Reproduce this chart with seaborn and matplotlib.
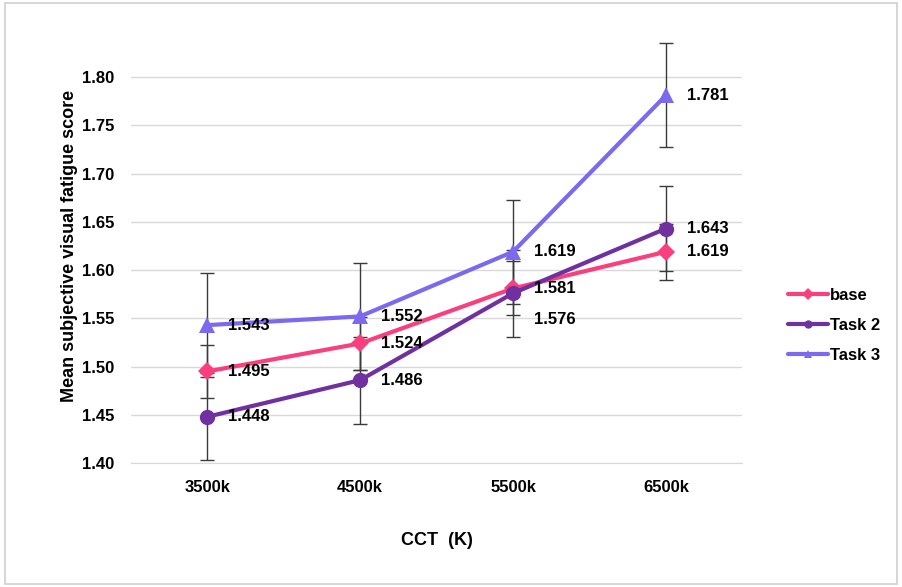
import numpy as np
import pandas as pd
import seaborn as sns
import matplotlib.pyplot as plt
from matplotlib.patches import Rectangle

# chart data
cct = ['3500k', '4500k', '5500k', '6500k']
base = [1.495, 1.524, 1.581, 1.619]
task2 = [1.448, 1.486, 1.576, 1.643]
task3 = [1.543, 1.552, 1.619, 1.781]
base_err = [0.027, 0.027, 0.028, 0.029]
task2_err = [0.045, 0.045, 0.045, 0.044]
task3_err = [0.054, 0.055, 0.054, 0.054]
series = ['base', 'Task 2', 'Task 3']

sns.set_style('white')
plt.rcParams['font.family'] = ['Liberation Sans', 'DejaVu Sans']
plt.rcParams['text.color'] = 'black'
plt.rcParams['xtick.color'] = 'black'
plt.rcParams['ytick.color'] = 'black'
plt.rcParams['axes.labelcolor'] = 'black'

df = pd.DataFrame({
    'CCT': cct * 3,
    'score': base + task2 + task3,
    'group': [s for s in series for _ in cct],
})
df['x'] = df['CCT'].map({c: i for i, c in enumerate(cct)})

colors = {'base': '#FA3F7E', 'Task 2': '#7030A0', 'Task 3': '#7B69F0'}
markers = {'base': 'D', 'Task 2': 'o', 'Task 3': '^'}
sizes = {'base': 9, 'Task 2': 11, 'Task 3': 11}

fig = plt.figure(figsize=(9.02, 5.87), dpi=100)
ax = fig.add_axes([0.145, 0.211, 0.678, 0.74])

errs = {'base': base_err, 'Task 2': task2_err, 'Task 3': task3_err}
vals = {'base': base, 'Task 2': task2, 'Task 3': task3}
for s in series:
    ax.errorbar(range(len(cct)), vals[s], yerr=errs[s], fmt='none',
                ecolor='#3a3a3a', elinewidth=1, capsize=5, capthick=1, zorder=2)

for s in series:
    sns.lineplot(data=df[df['group'] == s], x='x', y='score', ax=ax,
                 color=colors[s], marker=markers[s], markersize=sizes[s],
                 markeredgewidth=0, linewidth=3, label=s, zorder=3)

# value labels
offsets = {('Task 2', 2): -26}
for s in series:
    for i, v in enumerate(vals[s]):
        dy = offsets.get((s, i), 0)
        ax.annotate(f'{v:.3f}', (i, v), xytext=(21, dy), textcoords='offset pixels',
                    ha='left', va='center', fontsize=12, fontweight='bold', zorder=4)

ax.set_xlim(-0.5, 3.5)
ax.set_ylim(1.40, 1.85)
ax.set_yticks(np.arange(1.40, 1.801, 0.05))
ax.set_yticklabels([f'{t:.2f}' for t in np.arange(1.40, 1.801, 0.05)])
ax.set_xticks(range(len(cct)))
ax.set_xticklabels(cct)
ax.yaxis.grid(True, color='#d9d9d9', linewidth=1)
ax.set_axisbelow(True)
for sp in ['top', 'right', 'left']:
    ax.spines[sp].set_visible(False)
ax.spines['bottom'].set_color('#d9d9d9')
ax.tick_params(axis='both', length=0, labelsize=12)
ax.tick_params(axis='x', pad=12)
ax.tick_params(axis='y', pad=12)
for lab in ax.get_xticklabels() + ax.get_yticklabels():
    lab.set_fontweight('bold')

ax.set_xlabel('CCT  (K)', fontsize=13, fontweight='bold', labelpad=27)
ax.set_ylabel('Mean subjective visual fatigue score', fontsize=13, fontweight='bold', labelpad=3)

leg = ax.legend(loc='center left', bbox_to_anchor=(1.05, 0.318), frameon=False,
                prop={'weight': 'bold', 'size': 12}, handlelength=2.4,
                handletextpad=0.1, labelspacing=0.9)
for h in leg.legend_handles:
    h.set_markersize(6)

fig.patches.append(Rectangle((0.005, 0.005), 0.99, 0.99, transform=fig.transFigure,
                             fill=False, edgecolor='#d0d0d0', linewidth=1.2))

fig.savefig('out.png', dpi=100)
